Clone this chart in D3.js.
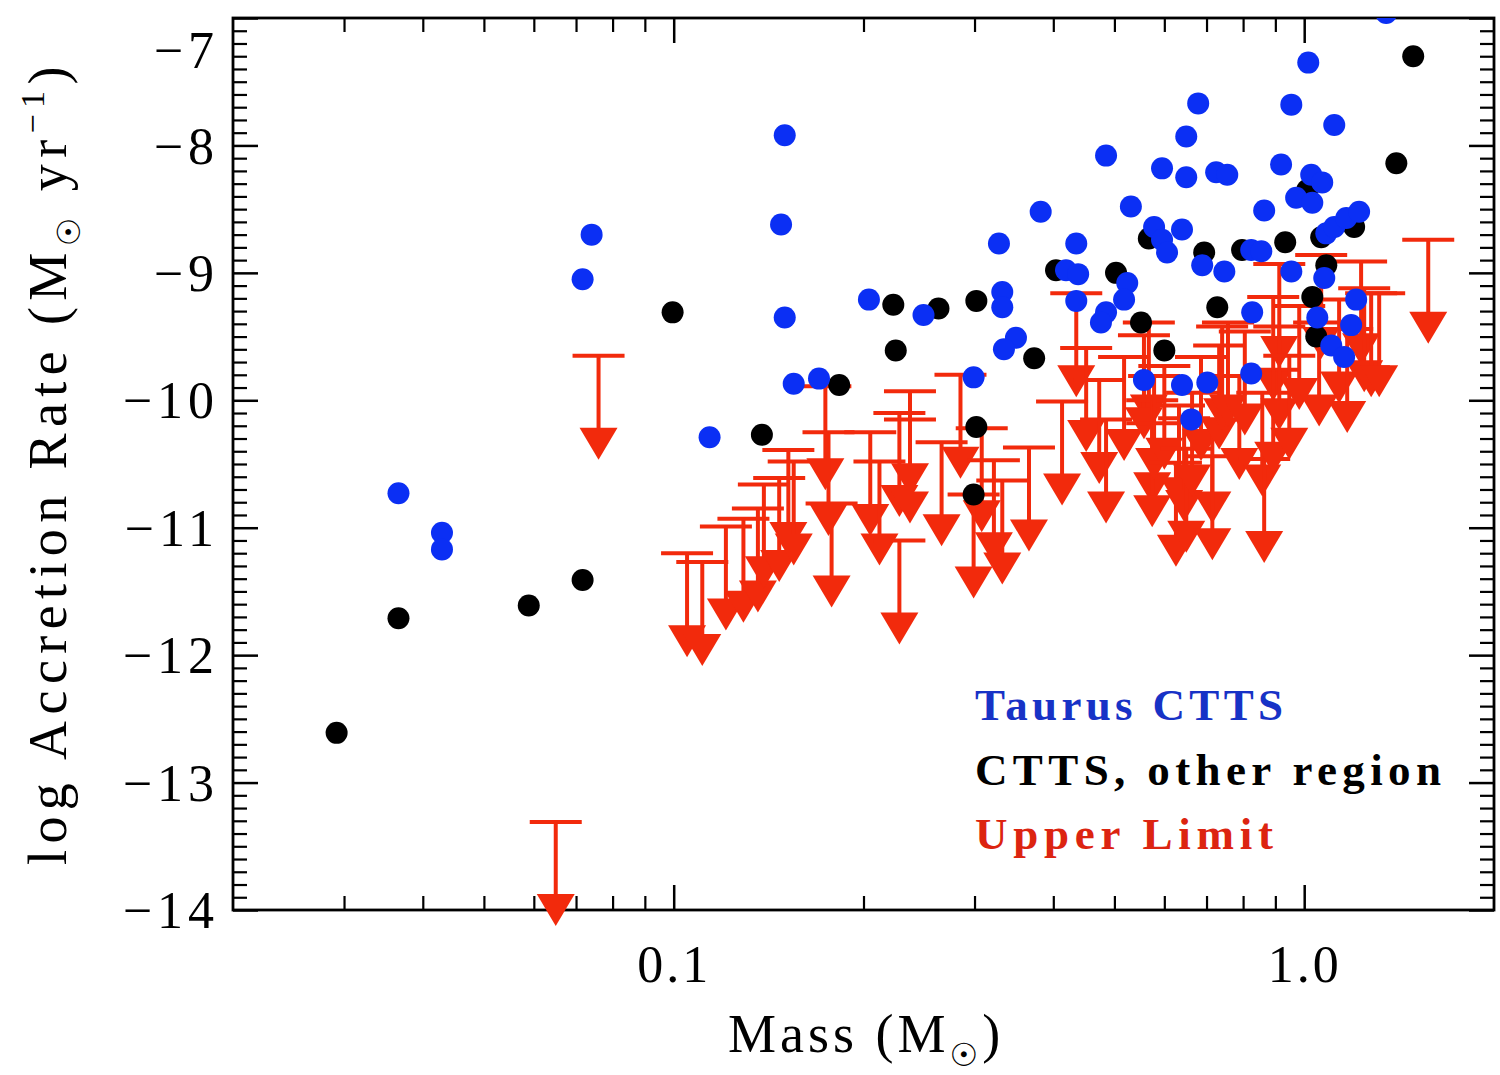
<!DOCTYPE html>
<html><head><meta charset="utf-8">
<script src="https://cdn.jsdelivr.net/npm/d3@7"></script>
<style>body{margin:0;background:#fff} svg{display:block}</style>
</head><body>
<svg id="c" width="1500" height="1075"></svg>
<script>
// ---- data (mass in Msun, log accretion rate in Msun/yr) ----
const taurusMass = [0.0366,0.0429,0.0429,0.0717,0.0741,0.150,0.148,0.150,0.155,0.170,0.114,0.204,0.249,0.299,0.328,0.332,0.332,0.349,0.334,0.382,0.435,0.419,0.438,0.435,0.485,0.531,0.524,0.518,0.485,0.476,0.578,0.595,0.606,0.640,0.595,0.650,0.650,0.679,0.557,0.640,0.662,0.702,0.725,0.755,0.689,0.747,0.824,0.855,0.827,0.824,0.864,0.919,0.954,1.015,1.116,1.026,1.068,0.971,1.030,0.954,1.076,1.084,1.116,1.166,1.222,1.209,1.049,1.187,1.104,1.157,1.349];
const taurusRate = [-10.73,-11.04,-11.17,-9.05,-8.70,-7.92,-8.62,-9.35,-9.87,-9.83,-10.29,-9.21,-9.33,-9.82,-8.77,-9.15,-9.27,-9.51,-9.60,-8.52,-8.77,-8.98,-9.01,-9.22,-8.08,-8.48,-9.08,-9.21,-9.31,-9.39,-8.64,-8.74,-8.84,-8.66,-8.18,-8.25,-7.93,-7.67,-9.84,-9.88,-10.15,-9.86,-8.21,-8.23,-8.94,-8.99,-8.82,-8.83,-9.31,-9.79,-8.51,-8.15,-7.68,-7.35,-7.84,-8.23,-8.29,-8.41,-8.45,-8.99,-9.04,-8.69,-8.64,-8.57,-8.52,-9.21,-9.35,-9.41,-9.57,-9.66,-6.96];

const otherMass = [0.0292,0.0366,0.0589,0.0717,0.0996,0.138,0.183,0.223,0.225,0.263,0.302,0.302,0.299,0.373,0.404,0.503,0.551,0.600,0.567,0.694,0.728,0.797,0.933,1.011,1.030,1.045,1.064,1.084,1.200,1.400,1.489];
const otherRate = [-12.61,-11.71,-11.61,-11.41,-9.31,-10.27,-9.88,-9.25,-9.61,-9.28,-9.22,-10.21,-10.74,-9.67,-8.98,-9.00,-9.39,-9.61,-8.73,-8.84,-9.27,-8.82,-8.76,-8.35,-9.19,-9.50,-8.72,-8.94,-8.64,-8.14,-7.30];

const limitMass = [0.065,0.076,0.105,0.111,0.121,0.129,0.136,0.139,0.147,0.152,0.155,0.174,0.178,0.176,0.205,0.212,0.228,0.228,0.237,0.237,0.266,0.285,0.308,0.322,0.332,0.299,0.366,0.413,0.435,0.451,0.473,0.485,0.518,0.567,0.557,0.574,0.574,0.578,0.600,0.626,0.633,0.645,0.650,0.664,0.686,0.715,0.715,0.733,0.741,0.757,0.789,0.805,0.858,0.864,0.893,0.893,0.913,0.913,0.947,0.982,1.056,1.064,1.136,1.170,1.231,1.245,1.277,1.315,1.573];
const limitRate = [-13.31,-9.65,-11.20,-11.27,-10.99,-10.93,-10.85,-10.66,-10.61,-10.39,-10.48,-9.89,-10.81,-10.25,-10.25,-10.48,-10.10,-11.10,-9.93,-10.15,-10.33,-9.80,-10.22,-10.47,-10.63,-10.74,-10.37,-10.01,-9.16,-9.59,-9.84,-10.15,-9.66,-9.39,-9.49,-10.00,-10.18,-9.81,-9.73,-10.49,-10.04,-10.14,-10.38,-9.94,-9.66,-10.15,-10.44,-9.57,-9.42,-9.39,-9.81,-9.46,-9.94,-10.46,-9.19,-9.76,-8.93,-9.42,-9.65,-9.26,-9.39,-8.86,-9.21,-9.44,-8.91,-9.12,-9.16,-9.16,-8.74];

const xTickValues = [0.1, 1.0];
const xTickLabels = ["0.1", "1.0"];
const yTickValues = [-14,-13,-12,-11,-10,-9,-8,-7];
const yTickLabels = ["\u221214","\u221213","\u221212","\u221211","\u221210","\u22129","\u22128","\u22127"];
const legendLabels = ["Taurus CTTS", "CTTS, other region", "Upper Limit"];

// ---- layout / style ----
const FONT = "'Liberation Serif', 'Times New Roman', serif";
const BLUE = "#0b2ff4", BLUE_TXT = "#1732c6", RED = "#f22a0c", RED_TXT = "#dc2410";
const L = 233, R = 1494, T = 18, B = 910;
const ARROW = 0.816; // arrow length in dex

const svg = d3.select("#c");
const x = d3.scaleLog().domain([0.02, 2.0]).range([L, R]);
const y = d3.scaleLinear().domain([-14, -7]).range([B, T]);

const xMinor = [0.03,0.04,0.05,0.06,0.07,0.08,0.09,0.2,0.3,0.4,0.5,0.6,0.7,0.8,0.9];
const yMinor = d3.range(-140, -70).map(v => v / 10).filter(v => Math.abs(v - Math.round(v)) > 1e-6);

function styleAxis(g, sw) {
  g.select(".domain").remove();
  g.selectAll(".tick line").attr("stroke", "#000").attr("stroke-width", sw);
  g.selectAll(".tick text").attr("fill", "#000").style("font-family", FONT).style("font-size", "52px");
}

// major axes
svg.append("g").attr("transform", `translate(0,${B})`)
  .call(d3.axisBottom(x).tickValues(xTickValues).tickSize(-25).tickPadding(35).tickFormat((d, i) => xTickLabels[i]))
  .call(g => styleAxis(g, 2.5))
  .call(g => g.selectAll(".tick text").style("letter-spacing", "3px"));
svg.append("g").attr("transform", `translate(0,${B})`)
  .call(d3.axisBottom(x).tickValues(xMinor).tickSize(-14).tickFormat(""))
  .call(g => styleAxis(g, 2.2));
svg.append("g").attr("transform", `translate(0,${T})`)
  .call(d3.axisTop(x).tickValues(xTickValues).tickSize(-25).tickFormat(""))
  .call(g => styleAxis(g, 2.5));
svg.append("g").attr("transform", `translate(0,${T})`)
  .call(d3.axisTop(x).tickValues(xMinor).tickSize(-14).tickFormat(""))
  .call(g => styleAxis(g, 2.2));

svg.append("g").attr("transform", `translate(${L},0)`)
  .call(d3.axisLeft(y).tickValues(yTickValues).tickSize(-25).tickPadding(14).tickFormat((d, i) => yTickLabels[i]))
  .call(g => styleAxis(g, 2.5))
  .call(g => g.selectAll(".tick text").style("letter-spacing", "5px")
    .attr("dy", d => d === -7 ? "0.95em" : "0.34em"));
svg.append("g").attr("transform", `translate(${L},0)`)
  .call(d3.axisLeft(y).tickValues(yMinor).tickSize(-14).tickFormat(""))
  .call(g => styleAxis(g, 2.2));
svg.append("g").attr("transform", `translate(${R},0)`)
  .call(d3.axisRight(y).tickValues(yTickValues).tickSize(-25).tickFormat(""))
  .call(g => styleAxis(g, 2.5));
svg.append("g").attr("transform", `translate(${R},0)`)
  .call(d3.axisRight(y).tickValues(yMinor).tickSize(-14).tickFormat(""))
  .call(g => styleAxis(g, 2.2));

// frame
svg.append("rect").attr("x", L).attr("y", T).attr("width", R - L).attr("height", B - T)
  .attr("fill", "none").attr("stroke", "#000").attr("stroke-width", 2.8);

// upper limits
const limits = limitMass.map((m, i) => ({m, v: limitRate[i]}));
const lg = svg.append("g");
const arrows = lg.selectAll("g.ul").data(limits).join("g").attr("class", "ul");
arrows.append("line")
  .attr("x1", d => x(d.m) - 26).attr("x2", d => x(d.m) + 26)
  .attr("y1", d => y(d.v)).attr("y2", d => y(d.v))
  .attr("stroke", RED).attr("stroke-width", 4);
arrows.append("line")
  .attr("x1", d => x(d.m)).attr("x2", d => x(d.m))
  .attr("y1", d => y(d.v)).attr("y2", d => y(d.v - ARROW) - 30)
  .attr("stroke", RED).attr("stroke-width", 4);
arrows.append("path")
  .attr("d", d => {
    const cx = x(d.m), ty = y(d.v - ARROW);
    return `M${cx - 19},${ty - 32}L${cx + 19},${ty - 32}L${cx},${ty}Z`;
  })
  .attr("fill", RED);

// clip for dots
svg.append("clipPath").attr("id", "plotclip").append("rect")
  .attr("x", L).attr("y", T).attr("width", R - L).attr("height", B - T);
const dots = svg.append("g").attr("clip-path", "url(#plotclip)");

const other = otherMass.map((m, i) => ({m, v: otherRate[i]}));
dots.selectAll("circle.o").data(other).join("circle").attr("class", "o")
  .attr("cx", d => x(d.m)).attr("cy", d => y(d.v)).attr("r", 11).attr("fill", "#000");

const taurus = taurusMass.map((m, i) => ({m, v: taurusRate[i]}));
dots.selectAll("circle.t").data(taurus).join("circle").attr("class", "t")
  .attr("cx", d => x(d.m)).attr("cy", d => y(d.v)).attr("r", 11).attr("fill", BLUE);

// legend
const legColors = [BLUE_TXT, "#000", RED_TXT];
const legWidths = [308, 466, 298];
svg.selectAll("text.leg").data(legendLabels).join("text").attr("class", "leg")
  .attr("x", 975).attr("y", (d, i) => 720 + i * 64.5)
  .attr("fill", (d, i) => legColors[i])
  .attr("textLength", (d, i) => legWidths[i]).attr("lengthAdjust", "spacing")
  .style("font-family", FONT).style("font-size", "45px").style("font-weight", "bold")
  .text(d => d);

// x title
const xt = svg.append("text").attr("x", 728).attr("y", 1052)
  .style("font-family", FONT).style("font-size", "54px").style("letter-spacing", "4px").attr("fill", "#000");
xt.append("tspan").text("Mass (M");
xt.append("tspan").attr("dy", 14).style("font-size", "32px").style("font-family", "'DejaVu Sans', sans-serif").text("\u2609");
xt.append("tspan").attr("dy", -14).text(")");

// y title
const yt = svg.append("text").attr("transform", "translate(66,865) rotate(-90)")
  .style("font-family", FONT).style("font-size", "54px").style("letter-spacing", "6.4px").attr("fill", "#000");
yt.append("tspan").text("log Accretion Rate (M");
yt.append("tspan").attr("dy", 14).style("font-size", "32px").style("font-family", "'DejaVu Sans', sans-serif").text("\u2609");
yt.append("tspan").attr("dy", -14).text(" yr");
yt.append("tspan").attr("dy", -22).style("font-size", "34px").text("\u22121");
yt.append("tspan").attr("dy", 22).text(")");
</script>
</body></html>
